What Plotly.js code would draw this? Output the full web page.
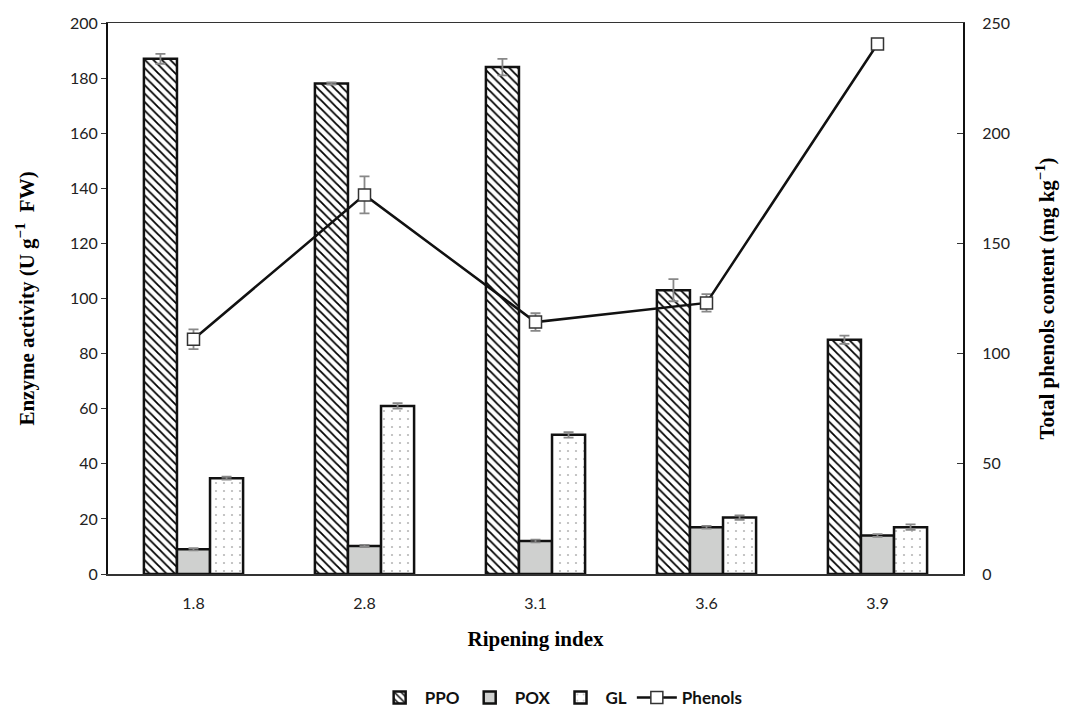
<!DOCTYPE html>
<html>
<head>
<meta charset="utf-8">
<script src="https://cdn.plot.ly/plotly-3.0.1.min.js"></script>
<style>html,body{margin:0;padding:0;background:#fff;}#chart{width:1067px;height:717px;}</style>
</head>
<body>
<div id="chart"></div>
<script>
const categories = ['1.8', '2.8', '3.1', '3.6', '3.9'];
const ppo = [187, 178, 184, 103, 85];
const ppoErr = [1.8, 0.4, 3, 4, 1.5];
const pox = [9, 10.2, 12, 17, 14];
const poxErr = [0.4, 0.4, 0.5, 0.5, 0.5];
const gl = [34.8, 61, 50.5, 20.5, 17];
const glErr = [0.5, 1, 1, 0.8, 1];
const phenols = [106.5, 172, 114.3, 123, 240.5];
const phenolsErr = [4.5, 8.4, 4, 4, 0.5];

const tickFont = {family: 'Lato, "Open Sans", sans-serif', size: 16, color: '#222'};
const titleFont = {family: '"Liberation Serif", "Times New Roman", serif', size: 21, color: '#000'};
const errStyle = {type: 'data', visible: true, color: '#888', thickness: 1.8, width: 5};

const traces = [
  {
    type: 'bar', name: 'PPO', x: categories, y: ppo,
    error_y: Object.assign({array: ppoErr}, errStyle),
    marker: {color: '#fff', line: {color: '#111', width: 2.5},
      pattern: {shape: '\\', fgcolor: '#000', bgcolor: '#fff', size: 6, solidity: 0.3}}
  },
  {
    type: 'bar', name: 'POX', x: categories, y: pox,
    error_y: Object.assign({array: poxErr}, errStyle),
    marker: {color: '#cfd0cf', line: {color: '#111', width: 2.5}}
  },
  {
    type: 'bar', name: 'GL', x: categories, y: gl,
    error_y: Object.assign({array: glErr}, errStyle),
    marker: {color: '#fff', line: {color: '#111', width: 2.5},
      pattern: {shape: '.', fgcolor: '#b8b8b8', bgcolor: '#fff', size: 8, solidity: 0.06}}
  },
  {
    type: 'scatter', mode: 'lines+markers', name: 'Phenols', x: categories, y: phenols, yaxis: 'y2',
    error_y: Object.assign({array: phenolsErr}, errStyle),
    line: {color: '#111', width: 2.5},
    marker: {symbol: 'square', size: 12, color: '#fff', line: {color: '#333', width: 1.5}}
  }
];

const layout = {
  width: 1067, height: 717,
  margin: {l: 108, r: 104, t: 23, b: 143, autoexpand: false},
  paper_bgcolor: '#fff', plot_bgcolor: '#fff',
  barmode: 'group', bargap: 0.42, bargroupgap: 0,
  showlegend: true,
  legend: {orientation: 'h', x: 0.53, xanchor: 'center', y: -0.225, yanchor: 'middle',
    font: {family: 'Lato, "Open Sans", sans-serif', size: 17, color: '#111', weight: 'bold'},
    itemwidth: 40, traceorder: 'normal'},
  xaxis: {
    type: 'category', showline: true, linecolor: '#333', linewidth: 1.5, mirror: true,
    ticks: '', ticklabelstandoff: 14, tickfont: tickFont, showgrid: false, zeroline: false, automargin: false,
    title: {text: '<b>Ripening index</b>', font: titleFont, standoff: 20}
  },
  yaxis: {
    range: [0, 200], dtick: 20, showline: true, linecolor: '#111', linewidth: 2,
    ticks: 'outside', ticklen: 5, tickcolor: '#333', tickfont: tickFont,
    showgrid: false, zeroline: false, automargin: false,
    title: {text: '<b>Enzyme activity (U g<sup>−1</sup>  FW)</b>', font: titleFont, standoff: 30}
  },
  yaxis2: {
    range: [0, 250], dtick: 50, overlaying: 'y', side: 'right', showline: true,
    linecolor: '#111', linewidth: 2, ticks: 'inside', ticklen: 6, tickcolor: '#333',
    ticklabelstandoff: 14,
    tickfont: tickFont, showgrid: false, zeroline: false, automargin: false,
    title: {text: '<b>Total phenols content (mg kg<sup>−1</sup>)</b>', font: titleFont, standoff: 30}
  }
};

Plotly.newPlot('chart', traces, layout, {displayModeBar: false, staticPlot: true});
</script>
</body>
</html>
